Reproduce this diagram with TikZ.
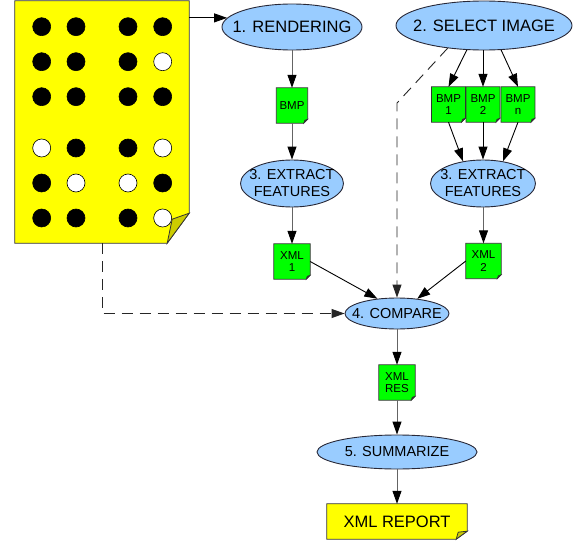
\documentclass[tikz,border=0pt]{standalone}
\usepackage{fontspec}
\setmainfont{Liberation Sans}
\usetikzlibrary{arrows.meta,shapes.geometric,backgrounds,calc}

\definecolor{procfill}{RGB}{153,204,255}
\definecolor{procline}{RGB}{40,40,55}
\definecolor{docgreen}{RGB}{0,255,0}
\definecolor{docyellow}{RGB}{255,255,0}
\definecolor{foldolive}{RGB}{204,204,0}
\definecolor{edgegray}{RGB}{100,100,100}

\begin{document}
\begin{tikzpicture}[x=1pt,y=-1pt,
  % process ellipses are empty shapes of fixed size; their text is a centred label
  proc/.style={ellipse, draw=procline, fill=procfill, line width=0.9pt,
    inner sep=0pt},
  biglbl/.style={font=\fontsize{16.5}{19}\selectfont, align=center, inner sep=0pt},
  midlbl/.style={font=\fontsize{14.5}{17}\selectfont, align=center, inner sep=0pt},
  doc/.style={rectangle, inner sep=0pt, align=center,
    font=\fontsize{11.5}{12.5}\selectfont},
  flow/.style={-{Triangle[length=13pt,width=9pt]}, line width=0.9pt, draw=black},
  grayflow/.style={-{Triangle[length=13pt,width=9pt,color=black]}, line width=1pt,
    draw=edgegray},
  dashflow/.style={flow, draw=black!85, dash pattern=on 11pt off 7pt},
  docline/.style={draw=black!80, line width=0.8pt},
  blackdot/.style={circle, fill=black, draw=black, line width=0.6pt,
    minimum size=18pt, inner sep=0pt},
  whitedot/.style={blackdot, fill=white},
]
\useasboundingbox (0,0) rectangle (579,543);

% ---- source page with braille cells ----
\node[rectangle, minimum width=174pt, minimum height=242pt, inner sep=0pt]
  (page) at (102,122) {};
\filldraw[fill=docyellow, docline]
  (page.north west) -- (page.north east) -- ($(page.south east)+(0pt,30pt)$)
  -- ($(page.south east)+(-22pt,0pt)$) -- (page.south west) -- cycle;

\foreach \y/\a/\b/\c/\d in {26.7/blackdot/blackdot/blackdot/blackdot,
                            61.7/blackdot/blackdot/blackdot/whitedot,
                            96.7/blackdot/blackdot/blackdot/blackdot,
                            148/whitedot/blackdot/blackdot/whitedot,
                            183/blackdot/whitedot/whitedot/blackdot,
                            218/blackdot/blackdot/blackdot/whitedot}{
  \node[\a] at (41.7,\y) {};
  \node[\b] at (76,\y) {};
  \node[\c] at (128,\y) {};
  \node[\d] at (162.7,\y) {};
}
\filldraw[fill=foldolive, docline]
  ($(page.south east)+(0pt,30pt)$) -- ($(page.south east)+(-22pt,0pt)$)
  -- ($(page.south east)+(-17pt,24pt)$) -- cycle;

% ---- process ellipses ----
\node[proc, minimum width=140pt, minimum height=46pt,
  label={[biglbl]center:1. RENDERING}] (ell1) at (292,27) {};
\node[proc, minimum width=176pt, minimum height=49pt,
  label={[biglbl]center:2. SELECT IMAGE}] (ell2) at (484,25.5) {};
\node[proc, minimum width=103pt, minimum height=47pt,
  label={[midlbl]center:{3. EXTRACT\\FEATURES}}] (ell3L) at (292,183.5) {};
\node[proc, minimum width=105pt, minimum height=47pt,
  label={[midlbl]center:{3. EXTRACT\\FEATURES}}] (ell3R) at (483,183.5) {};
\node[proc, minimum width=104pt, minimum height=31pt,
  label={[midlbl]center:4. COMPARE}] (compare) at (397,313.5) {};
\node[proc, minimum width=160pt, minimum height=34pt,
  label={[midlbl]center:5. SUMMARIZE}] (summ) at (397,452) {};

% ---- data documents ----
\node[doc, minimum width=31pt, minimum height=35pt] (bmp) at (292,105.5) {BMP};
\node[doc, minimum width=33.5pt, minimum height=35pt] (bmp1) at (448.5,104.5) {BMP\\1};
\node[doc, minimum width=33.5pt, minimum height=35pt] (bmp2) at (483,104.5) {BMP\\2};
\node[doc, minimum width=33.5pt, minimum height=35pt] (bmpn) at (518,104.5) {BMP\\n};
\node[doc, minimum width=36pt, minimum height=35pt] (xml1) at (292,261.5) {XML\\1};
\node[doc, minimum width=35pt, minimum height=35pt] (xml2) at (483.5,261) {XML\\2};
\node[doc, minimum width=36pt, minimum height=35pt] (xmlres) at (397,382.5) {XML\\RES};
\node[doc, minimum width=140pt, minimum height=35pt,
  font=\fontsize{16.5}{19}\selectfont] (report) at (397,521.5) {XML REPORT};

\begin{scope}[on background layer]
  \foreach \n in {bmp,bmp1,bmp2,bmpn,xml1,xml2,xmlres}{
    \filldraw[fill=docgreen, docline]
      (\n.north west) -- (\n.north east) -- ($(\n.south east)+(0pt,4pt)$)
      -- ($(\n.south east)+(-4pt,0pt)$) -- (\n.south west) -- cycle;
    \filldraw[fill=black!80, docline, line width=0.5pt]
      ($(\n.south east)+(0pt,4pt)$) -- ($(\n.south east)+(-4pt,0pt)$)
      -- ($(\n.south east)+(-3pt,3pt)$) -- cycle;
  }
  \filldraw[fill=docyellow, docline]
    (report.north west) -- (report.north east) -- ($(report.south east)+(0pt,8pt)$)
    -- ($(report.south east)+(-11pt,0pt)$) -- (report.south west) -- cycle;
  \filldraw[fill=foldolive, docline]
    ($(report.south east)+(0pt,8pt)$) -- ($(report.south east)+(-11pt,0pt)$)
    -- ($(report.south east)+(-9pt,7pt)$) -- cycle;
\end{scope}

% ---- connectors ----
\draw[flow] (page.east |- ell1.172) -- (ell1.172);
\draw[grayflow] (ell1.south) -- (bmp.north);
\draw[grayflow] (bmp.south) -- (ell3L.north);
\draw[grayflow] (ell3L.south) -- (xml1.north);

\draw[flow] (ell2.235) -- (bmp1.north);
\draw[flow] (bmp2.north |- ell2.south) -- (bmp2.north);
\draw[flow] (ell2.305) -- (bmpn.north);
\draw[flow] (bmp1.south) -- (ell3R.132);
\draw[flow] (bmp2.south) -- (bmp2.south |- ell3R.north);
\draw[flow] (bmpn.south) -- (ell3R.48);
\draw[grayflow] (ell3R.south -| xml2.north) -- (xml2.north);

\draw[flow] (xml1.east) -- (compare.143);
\draw[flow] (xml2.west) -- (compare.36);

\draw[dashflow] (page.south) -- (page.south |- compare.west) -- (compare.west);
\coordinate (dbend) at (397,103);
\draw[dashflow] (ell2.212) -- (dbend) -- (compare.north);

\draw[grayflow] (compare.south) -- (xmlres.north);
\draw[grayflow] (xmlres.south) -- (summ.north);
\draw[grayflow] (summ.south) -- (report.north);
\end{tikzpicture}
\end{document}
